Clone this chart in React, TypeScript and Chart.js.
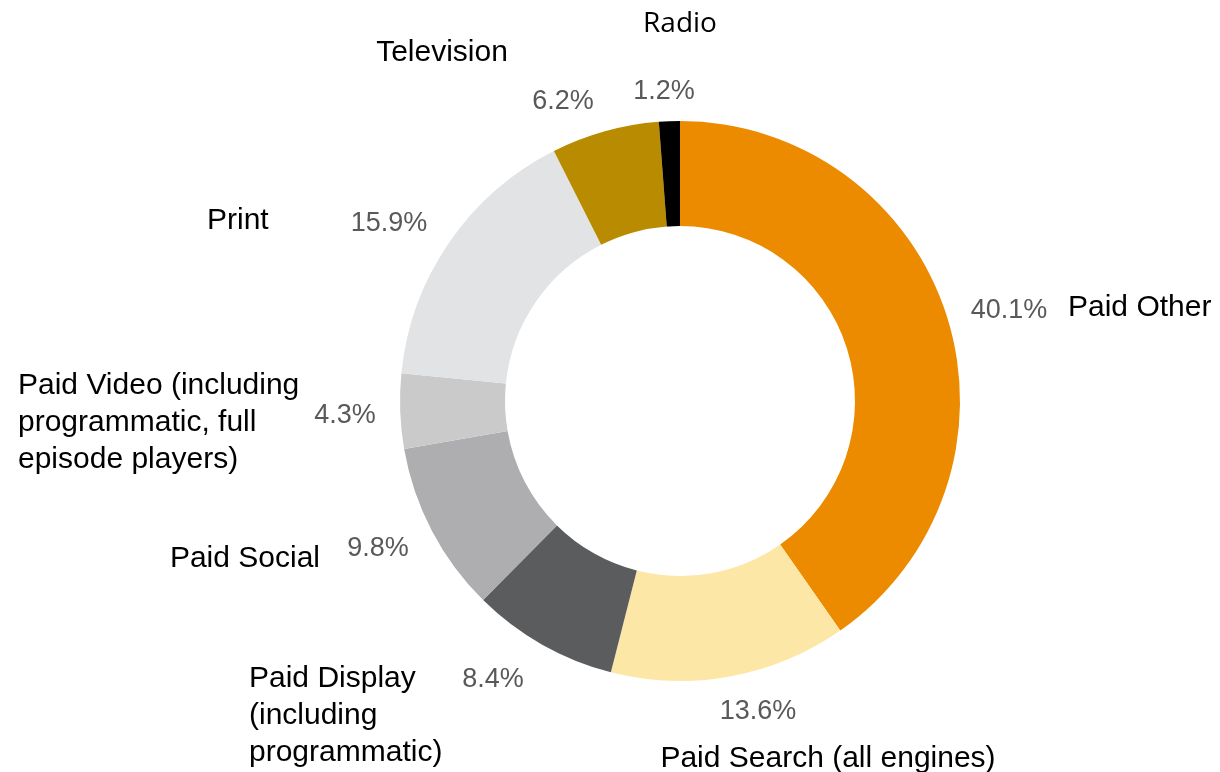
import React, { useEffect, useRef } from "react";
import { Chart, registerables } from "chart.js";

Chart.register(...registerables);

const categories = [
  "Paid Other",
  "Paid Search (all engines)",
  "Paid Display (including programmatic)",
  "Paid Social",
  "Paid Video (including programmatic, full episode players)",
  "Print",
  "Television",
  "Radio",
];
const shares = [40.1, 13.6, 8.4, 9.8, 4.3, 15.9, 6.2, 1.2];
const colors = ["#EC8A00", "#FDE7A7", "#5B5C5E", "#AEAEB0", "#CACACB", "#E2E3E5", "#B98B00", "#000000"];

// label text lines as shown in the picture
const nameLines = [
  ["Paid Other"],
  ["Paid Search (all engines)"],
  ["Paid Display", "(including", "programmatic)"],
  ["Paid Social"],
  ["Paid Video (including", "programmatic, full", "episode players)"],
  ["Print"],
  ["Television"],
  ["Radio"],
];

// label layout: offsets (px, relative to donut centre, for an outer radius of 280)
const pctOffsets = [
  [329, -90], [78, 311], [-187, 279], [-302, 148], [-335, 15], [-291, -177], [-117, -299], [-16, -309],
];
const nameOffsets = [
  [388, -93, "left"], [148, 358, "center"], [-431, 278, "left"], [-360, 158, "right"],
  [-662, -15, "left"], [-473, -180, "left"], [-238, -348, "center"], [0, -377, "center"],
];

const labelPlugin = {
  id: "sliceLabels",
  afterDraw(chart: any) {
    const meta = chart.getDatasetMeta(0);
    const ctx = chart.ctx;
    const arcs = meta.data;
    if (!arcs.length) return;
    const cx = arcs[0].x;
    const cy = arcs[0].y;
    const s = arcs[0].outerRadius / 280;
    ctx.save();
    ctx.textBaseline = "middle";
    arcs.forEach((arc: any, i: number) => {
      const [px, py] = pctOffsets[i];
      ctx.font = "27px 'Liberation Sans', Arial, sans-serif";
      ctx.fillStyle = "#595959";
      ctx.textAlign = "center";
      ctx.fillText(shares[i].toFixed(1) + "%", cx + px * s, cy + py * s);
      const [nx, ny, al] = nameOffsets[i] as [number, number, CanvasTextAlign];
      ctx.textAlign = al;
      ctx.fillStyle = "#000000";
      const isRadio = categories[i] === "Radio";
      ctx.font = isRadio ? "500 28px 'Open Sans', sans-serif" : "30px 'Liberation Sans', Arial, sans-serif";
      const lh = 37;
      nameLines[i].forEach((line, k) => {
        ctx.fillText(line, cx + nx * s, cy + ny * s + k * lh);
      });
    });
    ctx.restore();
  },
};

export default function App() {
  const ref = useRef<HTMLCanvasElement>(null);
  useEffect(() => {
    document.body.style.margin = "0";
    const chart = new Chart(ref.current as HTMLCanvasElement, {
      type: "doughnut",
      data: {
        labels: categories,
        datasets: [
          {
            data: shares,
            backgroundColor: colors,
            borderWidth: 0,
          },
        ],
      },
      options: {
        animation: false,
        responsive: false,
        cutout: "62.5%",
        layout: { padding: { top: 121, bottom: 91, left: 400, right: 260 } },
        plugins: {
          legend: { display: false },
          tooltip: { enabled: false },
        },
      },
      plugins: [labelPlugin],
    });
    return () => chart.destroy();
  }, []);
  return (
    <div style={{ width: 1220, height: 772, background: "#fff" }}>
      <canvas ref={ref} width={1220} height={772} style={{ display: "block" }} />
    </div>
  );
}
